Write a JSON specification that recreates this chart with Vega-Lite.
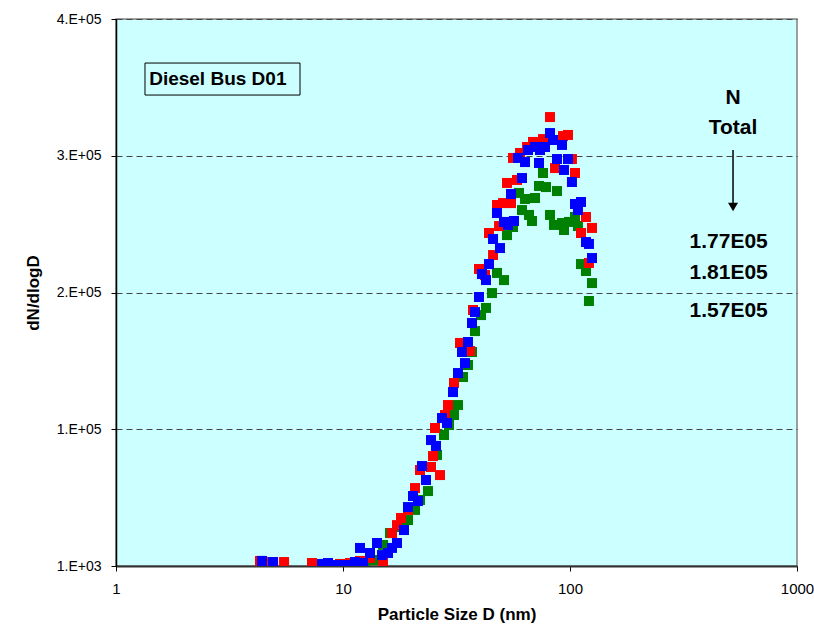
{
  "$schema": "https://vega.github.io/schema/vega-lite/v6.json",
  "width": 681,
  "height": 547,
  "autosize": "none",
  "padding": {"left": 116, "top": 19, "right": 17, "bottom": 61},
  "background": "white",
  "config": {
    "view": {"fill": "#CCFFFF", "stroke": "#808080", "strokeWidth": 1.5},
    "font": "Liberation Sans"
  },
  "datasets": {
    "pts": [
      {"s": "g", "D": 12.50, "v": 1700},
      {"s": "g", "D": 13.84, "v": 5400},
      {"s": "g", "D": 15.01, "v": 16400},
      {"s": "g", "D": 16.11, "v": 25100},
      {"s": "g", "D": 17.29, "v": 29500},
      {"s": "g", "D": 18.38, "v": 33200},
      {"s": "g", "D": 19.33, "v": 34600},
      {"s": "g", "D": 20.76, "v": 42000},
      {"s": "g", "D": 21.84, "v": 49300},
      {"s": "g", "D": 23.68, "v": 55800},
      {"s": "g", "D": 24.42, "v": 73400},
      {"s": "g", "D": 25.95, "v": 82200},
      {"s": "g", "D": 27.86, "v": 96800},
      {"s": "g", "D": 29.31, "v": 104100},
      {"s": "g", "D": 30.83, "v": 111400},
      {"s": "g", "D": 32.10, "v": 118700},
      {"s": "g", "D": 33.78, "v": 139200},
      {"s": "g", "D": 35.53, "v": 148000},
      {"s": "g", "D": 37.01, "v": 157500},
      {"s": "g", "D": 38.15, "v": 172800},
      {"s": "g", "D": 40.55, "v": 184500},
      {"s": "g", "D": 42.66, "v": 189700},
      {"s": "g", "D": 45.34, "v": 200600},
      {"s": "g", "D": 47.70, "v": 215300},
      {"s": "g", "D": 51.21, "v": 210100},
      {"s": "g", "D": 52.79, "v": 243000},
      {"s": "g", "D": 56.10, "v": 248900},
      {"s": "g", "D": 59.63, "v": 273800},
      {"s": "g", "D": 61.47, "v": 261300},
      {"s": "g", "D": 63.37, "v": 269400},
      {"s": "g", "D": 65.98, "v": 257700},
      {"s": "g", "D": 68.00, "v": 253300},
      {"s": "g", "D": 70.11, "v": 270100},
      {"s": "g", "D": 73.02, "v": 278900},
      {"s": "g", "D": 76.06, "v": 288400},
      {"s": "g", "D": 78.41, "v": 278100},
      {"s": "g", "D": 81.65, "v": 257700},
      {"s": "g", "D": 85.04, "v": 250400},
      {"s": "g", "D": 87.67, "v": 275200},
      {"s": "g", "D": 92.21, "v": 251800},
      {"s": "g", "D": 94.10, "v": 246700},
      {"s": "g", "D": 98.99, "v": 252600},
      {"s": "g", "D": 105.2, "v": 256200},
      {"s": "g", "D": 108.4, "v": 249600},
      {"s": "g", "D": 111.8, "v": 221800},
      {"s": "g", "D": 117.6, "v": 216700},
      {"s": "g", "D": 121.2, "v": 194800},
      {"s": "g", "D": 125.0, "v": 207900},
      {"s": "r", "D": 4.31, "v": 4700},
      {"s": "r", "D": 4.87, "v": 3900},
      {"s": "r", "D": 5.50, "v": 3900},
      {"s": "r", "D": 7.30, "v": 3200},
      {"s": "r", "D": 9.70, "v": 2500},
      {"s": "r", "D": 10.74, "v": 3200},
      {"s": "r", "D": 11.88, "v": 4700},
      {"s": "r", "D": 13.15, "v": 6900},
      {"s": "r", "D": 15.01, "v": 3900},
      {"s": "r", "D": 16.44, "v": 25100},
      {"s": "r", "D": 17.29, "v": 30900},
      {"s": "r", "D": 18.01, "v": 36100},
      {"s": "r", "D": 19.33, "v": 42000},
      {"s": "r", "D": 20.76, "v": 58000},
      {"s": "r", "D": 21.84, "v": 71200},
      {"s": "r", "D": 24.42, "v": 73400},
      {"s": "r", "D": 24.92, "v": 81400},
      {"s": "r", "D": 25.43, "v": 101900},
      {"s": "r", "D": 26.75, "v": 67500},
      {"s": "r", "D": 28.14, "v": 111400},
      {"s": "r", "D": 29.01, "v": 118700},
      {"s": "r", "D": 30.83, "v": 134800},
      {"s": "r", "D": 32.76, "v": 164100},
      {"s": "r", "D": 36.26, "v": 158200},
      {"s": "r", "D": 37.39, "v": 188200},
      {"s": "r", "D": 39.73, "v": 218200},
      {"s": "r", "D": 42.23, "v": 213800},
      {"s": "r", "D": 43.98, "v": 244500},
      {"s": "r", "D": 45.81, "v": 228400},
      {"s": "r", "D": 47.70, "v": 265000},
      {"s": "r", "D": 48.68, "v": 249600},
      {"s": "r", "D": 50.69, "v": 266400},
      {"s": "r", "D": 52.79, "v": 281100},
      {"s": "r", "D": 54.97, "v": 266400},
      {"s": "r", "D": 56.10, "v": 299400},
      {"s": "r", "D": 58.42, "v": 283300},
      {"s": "r", "D": 60.24, "v": 303000},
      {"s": "r", "D": 64.67, "v": 307400},
      {"s": "r", "D": 68.71, "v": 311100},
      {"s": "r", "D": 76.06, "v": 313200},
      {"s": "r", "D": 81.65, "v": 329300},
      {"s": "r", "D": 85.91, "v": 292000},
      {"s": "r", "D": 93.15, "v": 315400},
      {"s": "r", "D": 98.00, "v": 316200},
      {"s": "r", "D": 102.0, "v": 298600},
      {"s": "r", "D": 105.2, "v": 288400},
      {"s": "r", "D": 111.8, "v": 244500},
      {"s": "r", "D": 117.6, "v": 256200},
      {"s": "r", "D": 121.2, "v": 222600},
      {"s": "r", "D": 125.0, "v": 248200},
      {"s": "b", "D": 4.40, "v": 4700},
      {"s": "b", "D": 4.92, "v": 3900},
      {"s": "b", "D": 8.08, "v": 2500},
      {"s": "b", "D": 8.59, "v": 3200},
      {"s": "b", "D": 9.41, "v": 1700},
      {"s": "b", "D": 10.41, "v": 1700},
      {"s": "b", "D": 11.29, "v": 3900},
      {"s": "b", "D": 11.88, "v": 14200},
      {"s": "b", "D": 12.25, "v": 3200},
      {"s": "b", "D": 13.15, "v": 10500},
      {"s": "b", "D": 14.12, "v": 17800},
      {"s": "b", "D": 14.85, "v": 9000},
      {"s": "b", "D": 15.79, "v": 10500},
      {"s": "b", "D": 16.44, "v": 14200},
      {"s": "b", "D": 17.29, "v": 17800},
      {"s": "b", "D": 18.57, "v": 27300},
      {"s": "b", "D": 19.33, "v": 44100},
      {"s": "b", "D": 20.34, "v": 52200},
      {"s": "b", "D": 21.40, "v": 48500},
      {"s": "b", "D": 22.28, "v": 74100},
      {"s": "b", "D": 23.21, "v": 63900},
      {"s": "b", "D": 24.42, "v": 93100},
      {"s": "b", "D": 25.69, "v": 88800},
      {"s": "b", "D": 27.30, "v": 109200},
      {"s": "b", "D": 28.72, "v": 105600},
      {"s": "b", "D": 30.52, "v": 128200},
      {"s": "b", "D": 32.10, "v": 142100},
      {"s": "b", "D": 33.43, "v": 157500},
      {"s": "b", "D": 34.47, "v": 149400},
      {"s": "b", "D": 35.53, "v": 164800},
      {"s": "b", "D": 37.01, "v": 178700},
      {"s": "b", "D": 38.15, "v": 186700},
      {"s": "b", "D": 39.73, "v": 197700},
      {"s": "b", "D": 40.96, "v": 214500},
      {"s": "b", "D": 42.66, "v": 210100},
      {"s": "b", "D": 43.98, "v": 221800},
      {"s": "b", "D": 45.81, "v": 240100},
      {"s": "b", "D": 47.70, "v": 259100},
      {"s": "b", "D": 49.17, "v": 233500},
      {"s": "b", "D": 51.21, "v": 252600},
      {"s": "b", "D": 53.33, "v": 250400},
      {"s": "b", "D": 54.97, "v": 273000},
      {"s": "b", "D": 56.67, "v": 253300},
      {"s": "b", "D": 59.02, "v": 299400},
      {"s": "b", "D": 61.47, "v": 284700},
      {"s": "b", "D": 63.37, "v": 296400},
      {"s": "b", "D": 65.31, "v": 305200},
      {"s": "b", "D": 70.11, "v": 307400},
      {"s": "b", "D": 73.02, "v": 295700},
      {"s": "b", "D": 73.77, "v": 305200},
      {"s": "b", "D": 77.62, "v": 307400},
      {"s": "b", "D": 81.65, "v": 317600},
      {"s": "b", "D": 84.18, "v": 312500},
      {"s": "b", "D": 87.67, "v": 298600},
      {"s": "b", "D": 92.21, "v": 308900},
      {"s": "b", "D": 94.10, "v": 290600},
      {"s": "b", "D": 98.00, "v": 298600},
      {"s": "b", "D": 102.0, "v": 281800},
      {"s": "b", "D": 105.2, "v": 265700},
      {"s": "b", "D": 108.4, "v": 261300},
      {"s": "b", "D": 111.8, "v": 267200},
      {"s": "b", "D": 117.6, "v": 237900},
      {"s": "b", "D": 121.2, "v": 236500},
      {"s": "b", "D": 125.0, "v": 226200}
    ],
    "labels": [
      {"t": "N", "D": 522.6, "v": 343200},
      {"t": "Total", "D": 522.6, "v": 321300},
      {"t": "1.77E05", "D": 500, "v": 237900},
      {"t": "1.81E05", "D": 500, "v": 215300},
      {"t": "1.57E05", "D": 500, "v": 187500}
    ]
  },
  "layer": [
    {
      "data": {"name": "pts"},
      "mark": {"type": "point", "shape": "square", "filled": true, "opacity": 1, "size": 100, "clip": true},
      "encoding": {
        "x": {
          "field": "D", "type": "quantitative",
          "scale": {"type": "log", "domain": [1, 1000], "nice": false},
          "axis": {
            "values": [1, 10, 100, 1000], "format": "d", "grid": false,
            "title": "Particle Size D (nm)", "titleFontSize": 17, "titleFontWeight": "bold",
            "titleColor": "black", "titlePadding": 10,
            "labelFontSize": 15, "labelColor": "black", "labelPadding": 10, "labelFlush": false,
            "tickSize": 5, "tickColor": "black", "domainColor": "#333333", "domainWidth": 2
          }
        },
        "y": {
          "field": "v", "type": "quantitative",
          "scale": {"domain": [1000, 401000], "nice": false, "zero": false},
          "axis": {
            "values": [1000, 101000, 201000, 301000, 401000],
            "labelExpr": "replace(format(datum.value, '.0e'), 'e+', '.E+0')",
            "grid": true, "gridDash": [6, 4], "gridColor": "#444444", "gridWidth": 1,
            "title": "dN/dlogD", "titleFontSize": 17, "titleFontWeight": "bold",
            "titleColor": "black", "titlePadding": 14,
            "labelFontSize": 14, "labelColor": "black", "labelPadding": 10,
            "tickSize": 5, "tickColor": "black", "domainColor": "black", "domainWidth": 1.5
          }
        },
        "color": {
          "field": "s", "type": "nominal",
          "scale": {"domain": ["g", "r", "b"], "range": ["#008000", "#FF0000", "#0000FF"]},
          "legend": null
        }
      }
    },
    {
      "data": {"values": [{}]},
      "mark": {"type": "rect", "fill": null, "stroke": "black", "strokeWidth": 1, "fillOpacity": 0},
      "encoding": {
        "x": {"datum": 1.342, "type": "quantitative"},
        "x2": {"datum": 6.466},
        "y": {"datum": 345400, "type": "quantitative"},
        "y2": {"datum": 368800}
      }
    },
    {
      "data": {"values": [{"t": "Diesel Bus D01"}]},
      "mark": {"type": "text", "align": "left", "baseline": "middle", "fontSize": 19, "fontWeight": "bold", "color": "black"},
      "encoding": {
        "x": {"datum": 1.40, "type": "quantitative"},
        "y": {"datum": 357100, "type": "quantitative"},
        "text": {"field": "t"}
      }
    },
    {
      "data": {"values": [{}]},
      "mark": {"type": "rule", "color": "black", "strokeWidth": 1.5},
      "encoding": {
        "x": {"datum": 522.6, "type": "quantitative"},
        "y": {"datum": 305200, "type": "quantitative"},
        "y2": {"datum": 266000}
      }
    },
    {
      "data": {"values": [{}]},
      "mark": {"type": "point", "shape": "triangle-down", "filled": true, "color": "black", "opacity": 1, "size": 100},
      "encoding": {
        "x": {"datum": 522.6, "type": "quantitative"},
        "y": {"datum": 263500, "type": "quantitative"}
      }
    },
    {
      "data": {"name": "labels"},
      "mark": {"type": "text", "align": "center", "baseline": "middle", "fontSize": 21, "fontWeight": "bold", "color": "black"},
      "encoding": {
        "x": {"field": "D", "type": "quantitative"},
        "y": {"field": "v", "type": "quantitative"},
        "text": {"field": "t"}
      }
    }
  ]
}
